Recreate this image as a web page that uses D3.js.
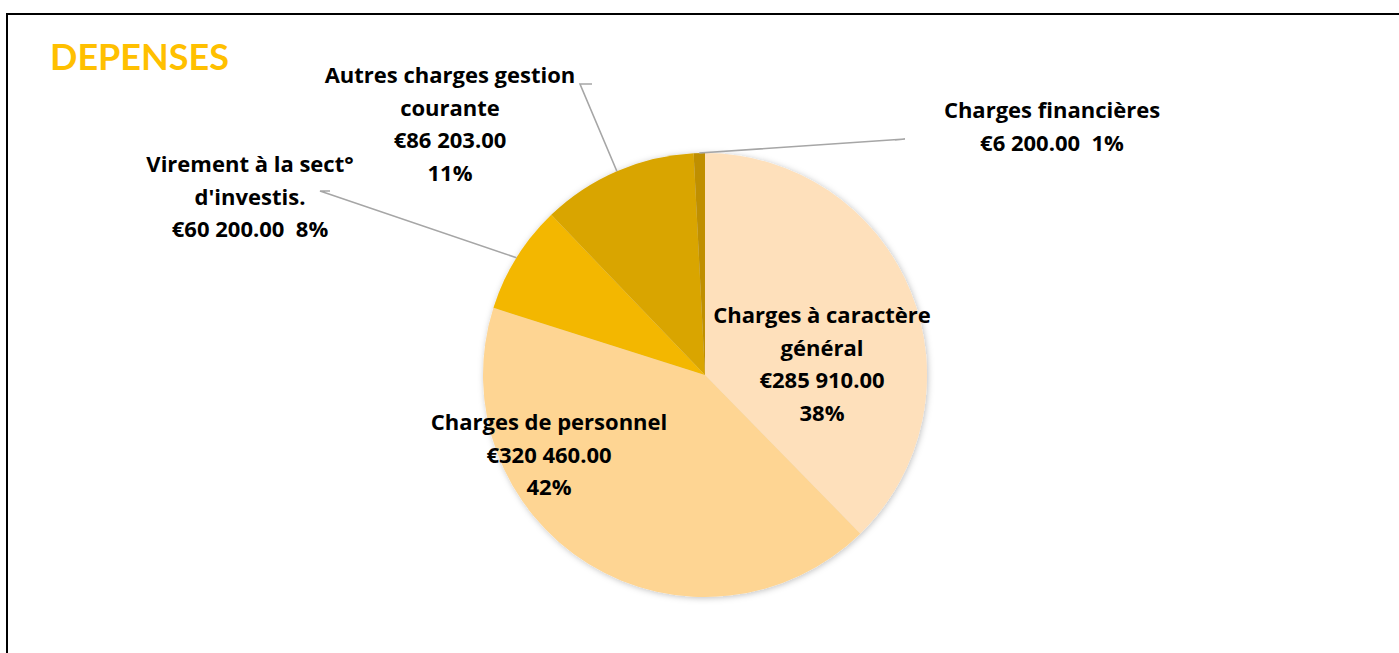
<!DOCTYPE html>
<html>
  <head>
    <meta charset="utf-8">
    <title>DEPENSES</title>
    <script src="https://d3js.org/d3.v7.min.js" charset="utf-8"></script>
    <style>
      body {
        margin: 0;
        overflow: hidden;
        background: #fff;
      }
      text {
        font-family: "Open Sans", Lato, sans-serif;
        font-weight: bold;
      }
      text.title {
        font-family: Lato, "Open Sans", sans-serif;
      }
    </style>
  </head>
  <body>
    <script type="text/javascript">
      // data
      var categories = ["Charges à caractère général", "Charges de personnel", "Virement à la sect° d'investis.",
                        "Autres charges gestion courante", "Charges financières"];
      var values = [285910, 320460, 60200, 86203, 6200];
      var colors = ["#fee0bb", "#fed593", "#f3b700", "#d9a500", "#bf8f00"];

      // how each label is laid out: words on the first name line, value+pct on one line or not,
      // label centre and first baseline, leader line elbow
      var labelLayout = [
        {nameBreak: 3, joinPct: false, x: 822, y: 323, leader: null},
        {nameBreak: null, joinPct: false, x: 549, y: 430, leader: null},
        {nameBreak: 4, joinPct: true, x: 250, y: 172, leader: [[320, 191], [330, 191]]},
        {nameBreak: 3, joinPct: false, x: 450, y: 83, leader: [[580, 84], [592, 84]]},
        {nameBreak: null, joinPct: true, x: 1052, y: 118, leader: [[905, 139], [895, 140]]}
      ];

      var width = 1399,
          height = 653,
          cx = 705,
          cy = 375,
          radius = 222,
          lineHeight = 32.5;

      var total = d3.sum(values);

      var locale = d3.formatLocale({decimal: ".", thousands: " ", grouping: [3], currency: ["€", ""]});
      var money = locale.format("$,.2f");
      var pct = d3.format(".0%");

      var svg = d3.select("body").append("svg")
                  .attr("width", width)
                  .attr("height", height);

      var defs = svg.append("defs");
      var filter = defs.append("filter")
                       .attr("id", "shadow")
                       .attr("x", "-20%").attr("y", "-20%")
                       .attr("width", "140%").attr("height", "140%");
      filter.append("feDropShadow")
            .attr("dx", 1).attr("dy", 1)
            .attr("stdDeviation", 3)
            .attr("flood-color", "#000")
            .attr("flood-opacity", 0.25);

      // frame
      svg.append("rect")
         .attr("x", 7).attr("y", 14)
         .attr("width", 1420).attr("height", 700)
         .attr("fill", "none")
         .attr("stroke", "#000")
         .attr("stroke-width", 2);

      svg.append("text")
         .attr("class", "title")
         .attr("x", 50).attr("y", 70)
         .attr("fill", "#ffc000")
         .style("font-size", "36px")
         .text("DEPENSES");

      var pie = d3.pie().sort(null).value(function(d) { return d; });
      var arcs = pie(values);
      var arc = d3.arc().innerRadius(0).outerRadius(radius);

      var g = svg.append("g").attr("transform", "translate(" + cx + "," + cy + ")");

      g.append("g")
       .attr("filter", "url(#shadow)")
       .selectAll("path")
       .data(arcs)
       .enter()
       .append("path")
       .attr("d", arc)
       .attr("fill", function(d, i) { return colors[i]; });

      // leader lines
      arcs.forEach(function(d, i) {
        var lay = labelLayout[i];
        if (!lay.leader) return;
        var a = (d.startAngle + d.endAngle) / 2;
        var p0 = [cx + radius * Math.sin(a), cy - radius * Math.cos(a)];
        var pts = [p0].concat(lay.leader);
        svg.append("path")
           .attr("d", d3.line()(pts))
           .attr("fill", "none")
           .attr("stroke", "#a6a6a6")
           .attr("stroke-width", 1.6);
      });

      // labels
      arcs.forEach(function(d, i) {
        var lay = labelLayout[i];
        var words = categories[i].split(" ");
        var lines = [];
        if (lay.nameBreak) {
          lines.push(words.slice(0, lay.nameBreak).join(" "));
          lines.push(words.slice(lay.nameBreak).join(" "));
        } else {
          lines.push(categories[i]);
        }
        var v = money(values[i]), p = pct(values[i] / total);
        if (lay.joinPct) {
          lines.push(v + "\u00a0\u00a0" + p);
        } else {
          lines.push(v);
          lines.push(p);
        }
        var t = svg.append("text")
                   .attr("text-anchor", "middle")
                   .attr("fill", "#000")
                   .style("font-size", "22px");
        lines.forEach(function(l, j) {
          t.append("tspan")
           .attr("x", lay.x)
           .attr("y", lay.y + j * lineHeight)
           .text(l);
        });
      });
    </script>
  </body>
</html>
